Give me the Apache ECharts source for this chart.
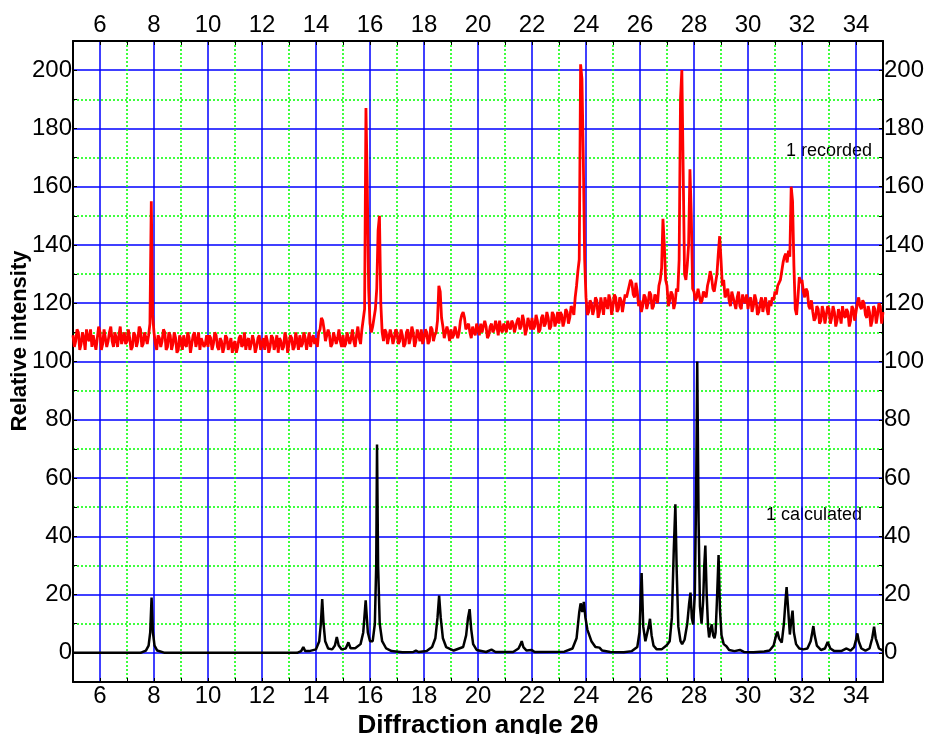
<!DOCTYPE html>
<html>
<head>
<meta charset="utf-8">
<script src="https://cdn.jsdelivr.net/npm/echarts@6/dist/echarts.min.js"></script>
<style>
html, body { margin: 0; padding: 0; background: #fff; }
#main { width: 928px; height: 734px; }
</style>
</head>
<body>
<div id="main"></div>
<script>
// recorded pattern: readings at 5.0, 5.1, ... 35.0
var recStart = 5.0;
var recStep = 0.1;
var recorded = [
    109,107,110,106,108,111,107,105,109,108,
    110,106,108,107,112,105,108,109,106,110,
    107,108,105,109,107,111,106,108,109,155,
    110,104,108,107,110,105,109,106,108,104,
    107,109,105,108,106,110,107,104,108,106,
    105,108,106,109,104,107,105,108,106,103,
    107,105,109,106,104,108,106,107,105,109,
    106,104,107,105,108,106,103,107,105,108,
    106,108,105,107,109,106,108,107,105,109,
    108,110,115,111,107,109,106,110,108,107,
    109,106,110,108,107,109,108,111,118,160,
    113,112,118,145,120,107,110,106,109,108,
    110,107,109,106,111,108,110,107,109,111,
    108,110,107,111,109,114,124,112,108,110,
    111,109,112,110,116,115,112,110,112,109,
    111,113,110,112,109,113,111,112,114,110,
    112,114,111,113,110,115,112,114,111,113,
    115,112,114,111,116,113,115,112,116,114,
    113,116,114,117,115,118,122,131,202,170,
    122,117,120,118,121,117,119,122,118,121,
    119,122,118,121,120,122,126,127,122,124,
    121,119,122,120,123,119,122,126,132,140,
    126,121,123,120,124,190,165,128,140,150,
    124,122,125,121,123,126,131,125,127,137,
    135,128,123,121,124,120,122,119,123,120,
    118,122,119,121,117,122,120,118,121,122,
    124,126,128,134,137,138,160,133,116,129,
    128,122,124,118,117,115,118,114,117,116,
    118,115,117,114,116,119,115,117,114,118,
    117,122,118,120,115,117,114,118,116,119,
    117
];
// readings in between: 5.05, 5.15, ... 34.95
var halfStart = 5.05;
var recordedHalf = [
    105,111,104,110,104,108,111,109,104,112,
    104,111,105,110,107,110,105,112,108,106,
    111,104,110,105,112,105,110,106,113,116,
    106,109,105,111,104,110,104,110,103,109,
    104,106,110,103,109,105,110,108,105,109,
    109,104,110,105,108,103,109,104,108,106,
    103,108,105,110,107,104,109,103,108,104,
    108,109,103,109,104,109,108,104,110,103,
    109,104,110,104,105,110,104,110,108,106,
    105,111,114,107,111,105,110,106,111,105,
    105,110,106,111,105,112,106,111,187,125,
    110,115,125,150,110,111,106,111,106,111,
    106,111,105,110,106,112,105,111,107,106,
    111,106,112,107,110,126,115,108,112,107,
    108,112,108,114,117,111,113,108,110,113,
    109,110,114,108,112,110,114,109,111,113,
    110,112,114,110,114,111,116,109,115,111,
    111,116,110,115,112,117,111,117,112,117,
    117,112,118,113,119,116,126,135,197,135,
    116,121,116,122,115,122,116,120,123,116,
    123,117,122,117,123,124,128,123,127,119,
    117,123,118,124,118,123,120,128,149,128,
    119,124,118,125,135,200,130,133,166,125,
    121,125,120,124,122,128,129,124,130,143,
    126,122,125,119,122,118,124,118,121,123,
    121,117,123,116,120,117,122,116,119,121,
    123,127,131,136,134,136,155,118,122,127,
    124,125,119,121,114,119,113,119,113,119,
    113,119,112,118,113,116,118,112,119,114,
    120,119,121,116,119,112,119,113,120,113
];

// calculated pattern [2theta, intensity]
var calculated = [
    [5,0],[7.5,0],[7.7,0.8],[7.8,2.5],[7.86,7],[7.91,19],[7.96,7],[8.02,2.5],[8.12,0.8],[8.4,0],
    [13.3,0],[13.45,0.6],[13.53,2],[13.6,0.6],[13.75,0.6],[14.0,1.2],[14.12,4],[14.18,10],[14.23,18.5],
    [14.28,10],[14.34,4],[14.45,1.5],[14.6,1.2],[14.7,2.5],[14.77,5.4],[14.84,2.5],[14.95,1.2],[15.1,1.5],
    [15.2,3.6],[15.28,1.6],[15.45,1.6],[15.65,3],[15.75,7],[15.84,18],[15.92,7],[16.0,4],[16.1,4],
    [16.18,10],[16.23,30],[16.26,71.5],[16.3,30],[16.36,10],[16.45,4],[16.6,1.5],[16.8,0.6],[17.2,0.2],
    [17.6,0.3],[17.7,0.8],[17.8,0.3],[18.1,0.6],[18.3,2],[18.42,5],[18.5,12],[18.56,19.7],[18.62,12],
    [18.7,5],[18.82,2],[19.1,0.8],[19.45,2],[19.56,6],[19.63,12],[19.69,15],[19.75,8],[19.82,3],[19.95,1],
    [20.3,0.3],[20.5,1.1],[20.65,0.3],[21.3,0.3],[21.5,1.5],[21.58,3],[21.62,4],[21.68,2],[21.8,0.8],
    [21.99,1],[22.1,0.3],[23.2,0.4],[23.5,1.5],[23.65,5],[23.75,14],[23.8,17],[23.86,14],[23.92,17.5],
    [23.98,12],[24.05,8],[24.12,7.5],[24.2,4],[24.35,2],[24.5,1.8],[24.6,0.8],[24.9,0.3],[25.4,0.2],
    [25.7,0.6],[25.9,2],[25.98,7],[26.06,27.4],[26.12,9],[26.2,4],[26.26,4.5],[26.32,9],[26.37,11.7],
    [26.43,6],[26.5,2.5],[26.62,1.2],[26.8,1.2],[26.99,2.6],[27.1,4],[27.18,12],[27.25,35],[27.31,51],
    [27.36,28],[27.42,9],[27.5,4],[27.56,3],[27.65,4.5],[27.75,10],[27.82,17],[27.87,20.7],[27.92,12],
    [27.97,9.7],[28.03,20],[28.08,55],[28.12,100],[28.17,45],[28.22,16],[28.28,10],[28.34,18],[28.38,30],
    [28.42,36.8],[28.47,20],[28.52,9],[28.56,5.3],[28.61,8],[28.66,9.8],[28.71,6],[28.76,5],[28.8,7],
    [28.85,18],[28.91,33.6],[28.96,15],[29.02,6],[29.1,3],[29.2,2.3],[29.3,1],[29.5,0.6],[29.7,1],
    [29.85,0.3],[30.2,0.2],[30.6,0.5],[30.8,0.8],[30.95,2.5],[31.04,6],[31.09,7.3],[31.15,5],[31.25,3.5],
    [31.33,10],[31.39,18],[31.43,22.6],[31.48,16],[31.55,6.3],[31.6,11],[31.65,14.5],[31.7,7],[31.78,3],
    [31.9,1.5],[32.05,1.2],[32.2,1.5],[32.32,4],[32.38,7],[32.42,9.2],[32.47,6],[32.55,2.5],[32.7,1],
    [32.85,1.5],[32.95,3.7],[33.05,1.5],[33.2,0.6],[33.45,0.6],[33.65,1.5],[33.8,0.8],[33.93,2],
    [34.0,4.5],[34.05,6.7],[34.1,4],[34.2,1.5],[34.35,0.8],[34.5,1.5],[34.6,5],[34.67,9],[34.73,5],
    [34.85,1.5],[35,0.8]
];

var xLabels = [6, 8, 10, 12, 14, 16, 18, 20, 22, 24, 26, 28, 30, 32, 34];
var yLabels = [0, 20, 40, 60, 80, 100, 120, 140, 160, 180, 200];

var FONT = '"Liberation Sans", Arial, sans-serif';

// merge the two reading sets in angle order
var recordedPts = [];
recorded.forEach(function (v, i) {
    recordedPts.push([+(recStart + i * recStep).toFixed(2), v]);
    if (i < recordedHalf.length) {
        recordedPts.push([+(halfStart + i * recStep).toFixed(2), recordedHalf[i]]);
    }
});

var pick = function (list) {
    return function (v) {
        var r = Math.round(v);
        return (Math.abs(v - r) < 1e-6 && list.indexOf(r) >= 0) ? String(r) : '';
    };
};

var labelStyle = { fontSize: 24, color: '#000', fontFamily: FONT };
var axisLine = { show: true, onZero: false, lineStyle: { color: '#000', width: 2 } };
var axisTick = { show: true, inside: true, length: 4, lineStyle: { color: '#000', width: 1 } };
// colour lists cycle over the ticks: minor (odd) dotted green, major (even) solid blue
var minorGrid = { show: true, lineStyle: { color: ['#00ff00', 'rgba(0,0,0,0)'], type: [2, 2], width: 1.5 } };
var majorGrid = { show: true, lineStyle: { color: ['rgba(0,0,0,0)', '#0000ff'], type: 'solid', width: 1.5 } };

var xAxisBase = function (pos, margin, grid) {
    return {
        type: 'value', position: pos, min: 5, max: 35, interval: 1,
        axisLine: axisLine, axisTick: axisTick,
        axisLabel: Object.assign({ formatter: pick(xLabels), margin: margin }, labelStyle),
        splitLine: grid
    };
};
var yAxisBase = function (pos, grid) {
    return {
        type: 'value', position: pos, min: -10, max: 210, interval: 10,
        axisLine: axisLine, axisTick: axisTick,
        axisLabel: Object.assign({ formatter: pick(yLabels), margin: 1 }, labelStyle),
        splitLine: grid
    };
};

var xBottom = xAxisBase('bottom', 2, minorGrid);
xBottom.name = 'Diffraction angle 2θ';
xBottom.nameLocation = 'middle';
xBottom.nameGap = 26;
xBottom.nameTextStyle = { fontSize: 26, fontWeight: 'bold', color: '#000', fontFamily: FONT };

var option = {
    animation: false,
    backgroundColor: '#fff',
    grid: { left: 73, right: 45, top: 41, bottom: 52, containLabel: false, outerBoundsMode: 'none' },
    xAxis: [xBottom, xAxisBase('top', 4, majorGrid)],
    yAxis: [yAxisBase('left', minorGrid), yAxisBase('right', majorGrid)],
    graphic: [
        {
            type: 'text', x: 20, y: 341, rotation: Math.PI / 2,
            style: { text: 'Relative intensity', fill: '#000', align: 'center', verticalAlign: 'middle',
                font: 'bold 22px "Liberation Sans", Arial, sans-serif' }
        },
        {
            type: 'text', x: 872, y: 151,
            style: { text: '1 recorded', fill: '#000', align: 'right', verticalAlign: 'middle',
                font: '18px "Liberation Sans", Arial, sans-serif' }
        },
        {
            type: 'text', x: 862, y: 515,
            style: { text: '1 calculated', fill: '#000', align: 'right', verticalAlign: 'middle',
                font: '18px "Liberation Sans", Arial, sans-serif' }
        }
    ],
    series: [
        {
            name: '1 calculated', type: 'line', xAxisIndex: 0, yAxisIndex: 0,
            showSymbol: false, symbol: 'none',
            lineStyle: { color: '#000', width: 2.5 },
            data: calculated
        },
        {
            name: '1 recorded', type: 'line', xAxisIndex: 0, yAxisIndex: 0,
            showSymbol: false, symbol: 'none',
            lineStyle: { color: '#ff0000', width: 2.8 },
            data: recordedPts
        }
    ]
};

var myChart = echarts.init(document.getElementById('main'));
myChart.setOption(option);
window.onresize = myChart.resize;
</script>
</body>
</html>
